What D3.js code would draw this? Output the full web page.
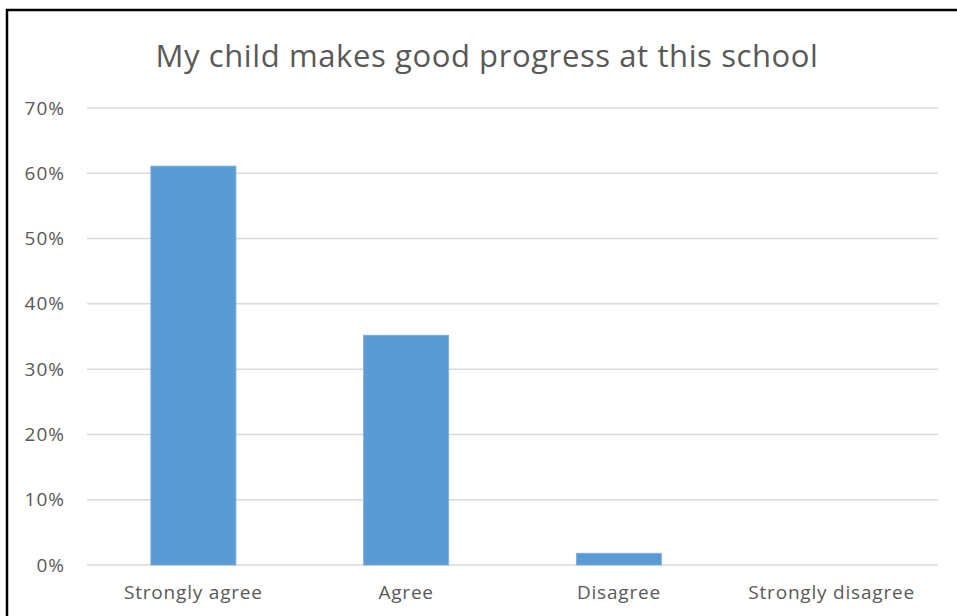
<!DOCTYPE html>
<html>
<head>
<meta charset="utf-8">
<script src="https://cdn.jsdelivr.net/npm/d3@7"></script>
<style>
  body { margin: 0; background: #fff; }
  svg { display: block; }
  text { font-family: "Open Sans", Lato, sans-serif; fill: #595959; }
</style>
</head>
<body>
<script>
var width = 957;
var height = 616;

// chart data
var title = "My child makes good progress at this school";
var categories = ["Strongly agree", "Agree", "Disagree", "Strongly disagree"];
var values = [0.611, 0.352, 0.018, 0];
var yTicks = [0, 0.1, 0.2, 0.3, 0.4, 0.5, 0.6, 0.7];

var margin = {top: 108, right: 19, bottom: 51, left: 87};

var svg = d3.select("body").append("svg")
    .attr("width", width)
    .attr("height", height);

// frame (only top and left edges are in view)
svg.append("path")
    .attr("d", "M7,616 L7,10 L957,10")
    .attr("fill", "none")
    .attr("stroke", "#000")
    .attr("stroke-width", 2.5);

var x = d3.scaleBand()
    .domain(categories)
    .range([margin.left, width - margin.right])
    .paddingInner(0.6)
    .paddingOuter(0.3);

var y = d3.scaleLinear()
    .domain([0, 0.7])
    .range([height - margin.bottom, margin.top]);

// gridlines
svg.append("g")
  .selectAll("line")
  .data(yTicks)
  .enter().append("line")
    .attr("x1", margin.left)
    .attr("x2", width - margin.right)
    .attr("y1", function(d) { return y(d); })
    .attr("y2", function(d) { return y(d); })
    .attr("stroke", "#d9d9d9")
    .attr("stroke-width", 1.5);

// y axis labels
var yAxis = d3.axisLeft(y)
    .tickValues(yTicks)
    .tickFormat(d3.format(".0%"))
    .tickSize(0)
    .tickPadding(22);

svg.append("g")
    .attr("transform", "translate(" + margin.left + ",0)")
    .call(yAxis)
    .call(function(g) { g.select(".domain").remove(); })
    .selectAll("text")
      .attr("font-size", 19)
      .attr("font-family", null)
      .attr("letter-spacing", 1)
      .attr("fill", "#595959");

// bars
svg.append("g")
  .selectAll("rect")
  .data(values)
  .enter().append("rect")
    .attr("x", function(d, i) { return x(categories[i]); })
    .attr("y", function(d) { return y(d); })
    .attr("width", x.bandwidth())
    .attr("height", function(d) { return y(0) - y(d); })
    .attr("fill", "#5b9bd5")
    .attr("stroke", "#7eb0de")
    .attr("stroke-width", 0.8);

// x axis labels
var xAxis = d3.axisBottom(x).tickSize(0).tickPadding(21);
svg.append("g")
    .attr("transform", "translate(0," + y(0) + ")")
    .call(xAxis)
    .call(function(g) { g.select(".domain").remove(); })
    .selectAll("text")
      .attr("font-size", 19)
      .attr("font-family", null)
      .attr("letter-spacing", 0.8)
      .attr("fill", "#595959");

// title, stretched to the width it has in the original
var titleText = svg.append("text")
    .attr("x", 487)
    .attr("y", 67)
    .attr("text-anchor", "middle")
    .attr("font-size", 31)
    .text(title);

var w = titleText.node().getComputedTextLength();
titleText.attr("letter-spacing", (663 - w) / title.length);
</script>
</body>
</html>
